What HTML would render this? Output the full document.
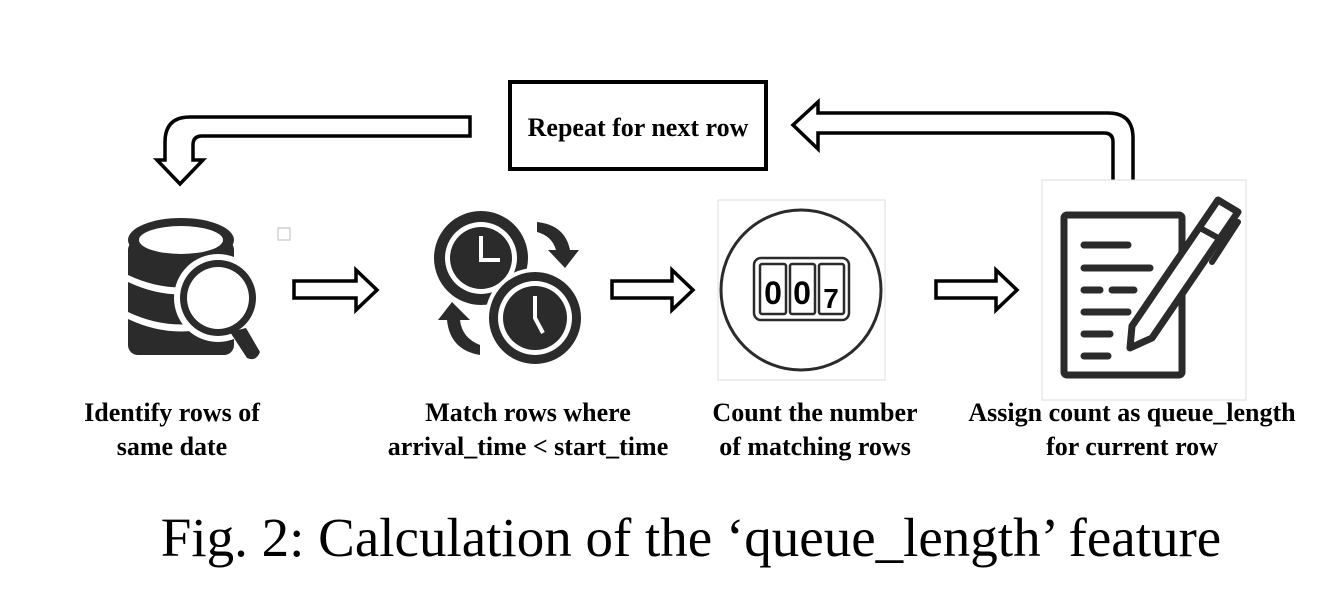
<!DOCTYPE html>
<html><head><meta charset="utf-8"><style>
html,body{margin:0;padding:0;background:#fff;}
svg{display:block;}
text{font-family:"Liberation Serif",serif;fill:#000;}
.lb{font-size:26px;font-weight:bold;text-anchor:middle;}
</style></head><body>
<svg width="1332" height="610" viewBox="0 0 1332 610">
<g>
<rect x="510" y="82" width="256" height="87" fill="#fff" stroke="#000" stroke-width="4"/>
<text x="638" y="136" style="font-size:26px;font-weight:bold" text-anchor="middle">Repeat for next row</text>
</g>
<path d="M470,117 L190,117 Q165,117 165,142 L165,160 L157,160 L180,184 L203,160 L193,160 L193,145 Q193,136 202,136 L470,136 Z" fill="#fff" stroke="#000" stroke-width="3.5"/>
<path d="M1133,185 L1133,138 Q1133,113 1108,113 L818,113 L818,102 L793,125 L818,149 L818,133 L1104,133 Q1113,133 1113,142 L1113,185 Z" fill="#fff" stroke="#000" stroke-width="3.5"/>
<g fill="#fff" stroke="#000" stroke-width="3.5">
<path d="M294,281 L356,281 L356,270 L377,290 L356,310 L356,298 L294,298 Z"/>
<path d="M612,281 L672,281 L672,270 L693,290 L672,310 L672,298 L612,298 Z"/>
<path d="M936,281 L996,281 L996,270 L1017,290 L996,310 L996,298 L936,298 Z"/>
</g>
<g fill="#2b2b2b">
<rect x="128" y="240" width="106" height="115" rx="10"/>
<ellipse cx="181" cy="240" rx="53" ry="22"/>
<ellipse cx="181" cy="240" rx="42" ry="14" fill="#fff"/>
<path d="M128,275 Q181,300 234,275 L234,282 Q181,307 128,282Z" fill="#fff"/>
<path d="M128,312 Q181,337 234,312 L234,319 Q181,344 128,319Z" fill="#fff"/>
<circle cx="218" cy="298" r="44" fill="#fff"/>
<circle cx="218" cy="298" r="38" fill="#2b2b2b"/>
<circle cx="218" cy="298" r="31" fill="#fff"/>
<path d="M230,332 L246,328 L260,352 Q256,362 247,358 Z"/>
</g>
<rect x="278" y="228" width="12" height="12" fill="none" stroke="#bbb"/>
<g>
<circle cx="481" cy="258" r="47" fill="#2b2b2b"/>
<circle cx="481" cy="258" r="36" fill="#fff"/>
<circle cx="481" cy="258" r="31" fill="#2b2b2b"/>
<path d="M481,236 L481,260 L500,260" stroke="#fff" stroke-width="4" fill="none"/>
<circle cx="535" cy="318" r="48" fill="#2b2b2b" stroke="#fff" stroke-width="4"/>
<circle cx="535" cy="318" r="37" fill="#fff"/>
<circle cx="535" cy="318" r="32" fill="#2b2b2b"/>
<path d="M535,296 L535,318 L543,333" stroke="#fff" stroke-width="4" fill="none"/>
<path d="M537,222 Q565,225 570,250 L579,250 L565,268 L548,250 L556,250 Q552,236 537,232Z" fill="#2b2b2b"/>
<path d="M480,355 Q450,350 447,320 L438,320 L452,302 L470,320 L460,320 Q462,338 480,345Z" fill="#2b2b2b"/>
</g>
<g>
<rect x="718" y="200" width="167" height="180" fill="#fff" stroke="#ddd" stroke-width="1"/>
<circle cx="801" cy="290" r="80" fill="none" stroke="#2b2b2b" stroke-width="3"/>
<rect x="754" y="258" width="95" height="62" rx="7" fill="none" stroke="#2b2b2b" stroke-width="2.5"/>
<rect x="760" y="264" width="26" height="50" rx="2" fill="none" stroke="#2b2b2b" stroke-width="2.5"/>
<rect x="790" y="264" width="25" height="50" rx="2" fill="none" stroke="#2b2b2b" stroke-width="2.5"/>
<rect x="819" y="264" width="25" height="50" rx="2" fill="none" stroke="#2b2b2b" stroke-width="2.5"/>
<text x="773" y="304" style="font-family:'Liberation Sans',sans-serif;font-size:32px;font-weight:bold" text-anchor="middle">0</text>
<text x="802" y="304" style="font-family:'Liberation Sans',sans-serif;font-size:32px;font-weight:bold" text-anchor="middle">0</text>
<text x="831" y="308" style="font-family:'Liberation Sans',sans-serif;font-size:28px;font-weight:bold" text-anchor="middle">7</text>
</g>
<g>
<rect x="1042" y="180" width="204" height="220" fill="#fff" stroke="#ddd" stroke-width="1"/>
<rect x="1064" y="215" width="118" height="160" rx="3" fill="none" stroke="#2b2b2b" stroke-width="7"/>
<g stroke="#2b2b2b" stroke-width="7" stroke-linecap="round">
<line x1="1084" y1="245" x2="1128" y2="245"/>
<line x1="1084" y1="268" x2="1150" y2="268"/>
<line x1="1084" y1="290" x2="1100" y2="290"/>
<line x1="1112" y1="290" x2="1134" y2="290"/>
<line x1="1084" y1="312" x2="1128" y2="312"/>
<line x1="1084" y1="334" x2="1110" y2="334"/>
<line x1="1084" y1="356" x2="1108" y2="356"/>
</g>
<path d="M1218,200 L1238,212 L1152,338 L1130,348 L1132,326 Z" fill="#fff" stroke="#2b2b2b" stroke-width="7" stroke-linejoin="round"/>
<line x1="1200" y1="228" x2="1222" y2="240" stroke="#2b2b2b" stroke-width="6"/>
<path d="M1238,222 L1212,262" stroke="#2b2b2b" stroke-width="6" stroke-linecap="round"/>
</g>
<g>
<text class="lb" x="172" y="421">Identify rows of</text>
<text class="lb" x="172" y="455">same date</text>
<text class="lb" x="528" y="421">Match rows where</text>
<text class="lb" x="528" y="455">arrival_time &lt; start_time</text>
<text class="lb" x="815" y="421">Count the number</text>
<text class="lb" x="815" y="455">of matching rows</text>
<text class="lb" x="1132" y="421">Assign count as queue_length</text>
<text class="lb" x="1132" y="455">for current row</text>
</g>
<text x="691" y="556" text-anchor="middle" style="font-size:55px">Fig. 2: Calculation of the ‘queue_length’ feature</text>
</svg>
</body></html>
